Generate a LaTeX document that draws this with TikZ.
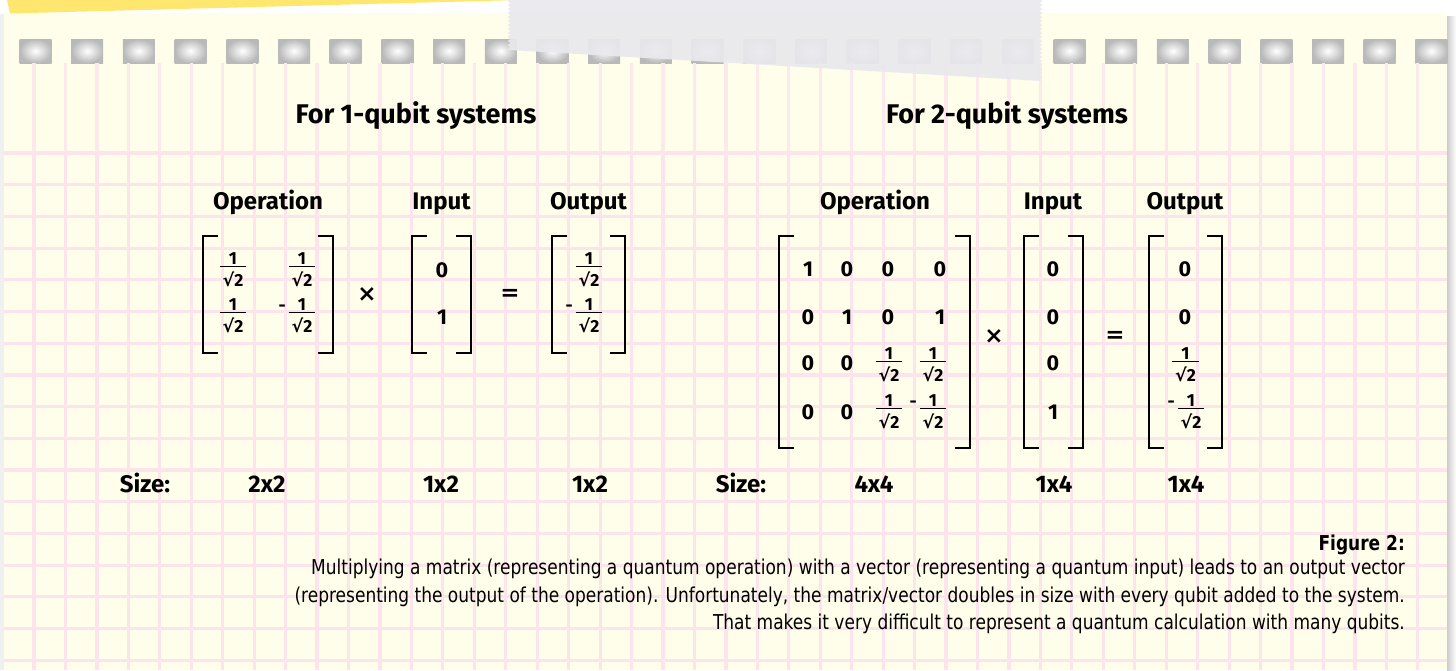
\documentclass[tikz,border=0pt]{standalone}
\usepackage{fontspec}
\setmainfont{Fira Sans}
\newfontfamily\capfont{DejaVu Sans}[FakeStretch=0.83]
\newfontfamily\radfont{DejaVu Sans}
\usetikzlibrary{decorations.pathmorphing}
\definecolor{paper}{HTML}{FFFEEA}
\definecolor{gridpink}{HTML}{FDE4EC}
\definecolor{notey}{HTML}{FFE76F}
\definecolor{tapec}{HTML}{E9E9EE}
\newcommand\qf{{\renewcommand\arraystretch{0}\setlength\arrayrulewidth{1.3pt}%
\begin{tabular}{@{\hspace{3pt}}c@{\hspace{3pt}}}\rule[-2pt]{0pt}{15pt}1\\\hline\rule{0pt}{19pt}{\radfont\bfseries √}2\end{tabular}}}
\newcommand\nqf{\llap{\raisebox{7.5pt}{-}\hspace{3pt}}\qf}
\newcommand\qbrackets[1]{%
  \draw[brline] ([xshift=15pt]#1.north west) -- (#1.north west) -- (#1.south west) -- ([xshift=15pt]#1.south west);
  \draw[brline] ([xshift=-15pt]#1.north east) -- (#1.north east) -- (#1.south east) -- ([xshift=-15pt]#1.south east);}
\tikzset{
  hdr/.style={font=\fontsize{27}{30}\selectfont\bfseries, inner sep=0pt, anchor=base},
  lbl/.style={font=\fontsize{24}{30}\selectfont\bfseries, inner sep=0pt, anchor=base},
  ent/.style={font=\fontsize{21.5}{26}\selectfont\bfseries, inner sep=0pt},
  frc/.style={font=\fontsize{17.5}{20}\selectfont\bfseries, inner sep=0pt},
  sym/.style={font=\radfont\bfseries\fontsize{23}{28}\selectfont, inner sep=0pt},
  body/.style={inner sep=0pt, outer sep=0pt},
  brline/.style={line width=2.5pt, black, line join=miter},
  captext/.style={font=\capfont\fontsize{20.5}{25}\selectfont, inner sep=0pt, anchor=base east},
  captitle/.style={font=\capfont\bfseries\fontsize{20.5}{25}\selectfont, inner sep=0pt, anchor=base east},
  gridline/.style={line width=3.2pt, gridpink},
  gridfaint/.style={line width=3.2pt, gridpink!85!paper},
  hole/.style={inner color=white, outer color=gray!55},
  tapefill/.style={fill=tapec, fill opacity=0.92},
  zz/.style={decoration={zigzag, segment length=4pt, amplitude=1.4pt}}
}
\begin{document}
\begin{tikzpicture}[x=1pt, y=-1pt]
\useasboundingbox (0,0) rectangle (1456,670);
% background and paper
\fill[white] (0,0) rectangle (1456,670);
\fill[gray!12] (0,14) rectangle (4,670);
\shade[left color=gray!40, right color=white] (1447,16) rectangle (1456,670);
\fill[paper] (4,13) rectangle (1447,670);
% punched holes
\foreach \k in {0,...,27} {
  \shade[hole] ({19.5+51.7*\k},39) rectangle ++(32,24);
}
% grid
\foreach \j in {0,...,44} {
  \draw[gridfaint] ({34+31.45*\j},63) -- ({34+31.45*\j},153);
  \draw[gridline] ({34+31.45*\j},153) -- ({34+31.45*\j},670);
}
\foreach \i in {0,...,16} {
  \draw[gridline] (4,{153+31.7*\i}) -- (1447,{153+31.7*\i});
}
% sticky note and tape
\fill[notey] (7,0) -- (10,13.5) -- (520,0) -- cycle;
\fill[tapefill] (509,0) -- (1041,0)
  decorate[zz]{-- (1041,81)} -- (509,50)
  decorate[zz]{-- (509,0)} -- cycle;
% headings
\node[hdr] (h1) at (416,123) {For 1-qubit systems};
\node[hdr] (h2) at (1007,123) {For 2-qubit systems};
\node[lbl] (l1op) at (268,209.5) {Operation};
\node[lbl] (l1in) at (441.5,209.5) {Input};
\node[lbl] (l1out) at (588.5,209.5) {Output};
\node[lbl] (l2op) at (875,209.5) {Operation};
\node[lbl] (l2in) at (1053,209.5) {Input};
\node[lbl] (l2out) at (1185,209.5) {Output};
% 1-qubit matrices
\node[body, minimum width=130pt, minimum height=117pt] (op1) at (268,294.5) {};
\node[body, minimum width=59pt, minimum height=117pt] (in1) at (441.5,294.5) {};
\node[body, minimum width=73pt, minimum height=117pt] (out1) at (588.5,294.5) {};
\qbrackets{op1}\qbrackets{in1}\qbrackets{out1}
\node[frc] (o1a) at (233,269) {\qf};
\node[frc] (o1b) at (302,269) {\qf};
\node[frc] (o1c) at (233,315) {\qf};
\node[frc] (o1d) at (302,315) {\nqf};
\node[ent] (i1a) at (442,270.5) {0};
\node[ent] (i1b) at (442,317) {1};
\node[frc] (r1a) at (589,269) {\qf};
\node[frc] (r1b) at (589,315) {\nqf};
\node[sym] (t1) at (367,295) {×};
\node[sym] (e1) at (510,295) {=};
% 2-qubit matrices
\node[body, minimum width=191pt, minimum height=212pt] (op2) at (874.5,342) {};
\node[body, minimum width=59pt, minimum height=212pt] (in2) at (1053.5,342) {};
\node[body, minimum width=73pt, minimum height=212pt] (out2) at (1185.5,342) {};
\qbrackets{op2}\qbrackets{in2}\qbrackets{out2}
\node[ent] (a11) at (808,269) {1};
\node[ent] (a12) at (847,269) {0};
\node[ent] (a13) at (888,269) {0};
\node[ent] (a14) at (940,269) {0};
\node[ent] (a21) at (808,317) {0};
\node[ent] (a22) at (847,317) {1};
\node[ent] (a23) at (888,317) {0};
\node[ent] (a24) at (940,317) {1};
\node[ent] (a31) at (808,363) {0};
\node[ent] (a32) at (847,363) {0};
\node[frc] (a33) at (889,364) {\qf};
\node[frc] (a34) at (933,364) {\qf};
\node[ent] (a41) at (808,412) {0};
\node[ent] (a42) at (847,412) {0};
\node[frc] (a43) at (889,411) {\qf};
\node[frc] (a44) at (933,411) {\nqf};
\node[ent] (b1) at (1053,269) {0};
\node[ent] (b2) at (1053,317) {0};
\node[ent] (b3) at (1053,363) {0};
\node[ent] (b4) at (1053,412) {1};
\node[ent] (c1) at (1185,269) {0};
\node[ent] (c2) at (1185,317) {0};
\node[frc] (c3) at (1185.5,364) {\qf};
\node[frc] (c4) at (1191,411) {\nqf};
\node[sym] (t2) at (994,337) {×};
\node[sym] (e2) at (1115,337) {=};
% size row
\node[lbl] (s1) at (145,492) {Size:};
\node[lbl] (s1a) at (267,492) {2x2};
\node[lbl] (s1b) at (441,492) {1x2};
\node[lbl] (s1c) at (590,492) {1x2};
\node[lbl] (s2) at (741,492) {Size:};
\node[lbl] (s2a) at (874,492) {4x4};
\node[lbl] (s2b) at (1054,492) {1x4};
\node[lbl] (s2c) at (1186,492) {1x4};
% caption
\node[captitle] (fig) at (1405,550) {Figure 2:};
\node[captext] (cap1) at (1405,574.5) {Multiplying a matrix (representing a quantum operation) with a vector (representing a quantum input) leads to an output vector};
\node[captext] (cap2) at (1405,602) {(representing the output of the operation). Unfortunately, the matrix/vector doubles in size with every qubit added to the system.};
\node[captext] (cap3) at (1405,629) {That makes it very difficult to represent a quantum calculation with many qubits.};
\end{tikzpicture}
\end{document}
